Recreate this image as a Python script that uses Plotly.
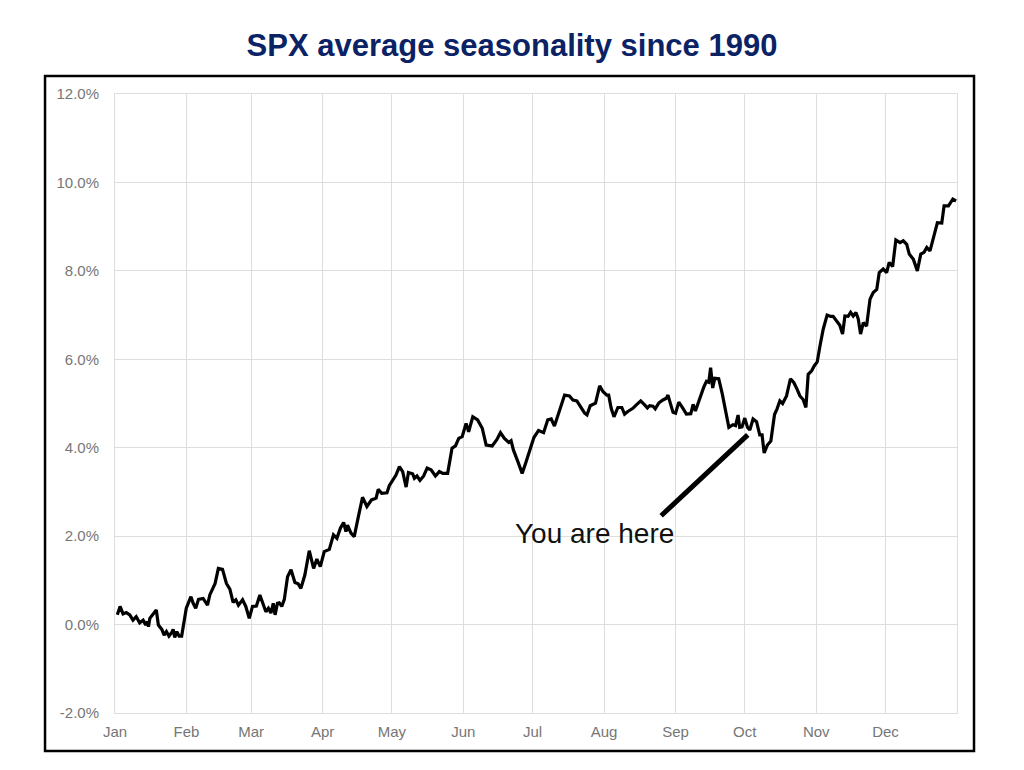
import pandas as pd
import plotly.graph_objects as go

# Day of year (0 = Jan 1) and average cumulative return (%)
day_of_year = [
    1.0, 2.2, 3.5, 4.9, 6.4, 7.8, 9.2, 10.7, 12.2, 13.3,
    14.0, 14.5, 15.1, 16.5, 17.9, 18.8, 20.3, 21.3, 22.3, 23.4,
    24.6, 25.2, 25.9, 26.8, 27.8, 28.9, 29.9, 30.9, 32.9, 33.9,
    35.0, 36.2, 38.2, 40.1, 41.1, 43.4, 44.8, 46.6, 48.3, 49.8,
    51.2, 52.4, 53.5, 55.3, 56.7, 58.2, 59.6, 61.3, 62.8, 64.2,
    65.4, 66.5, 67.6, 68.6, 69.4, 70.4, 71.2, 72.3, 73.4, 74.8,
    76.3, 78.0, 79.4, 80.6, 82.3, 84.2, 86.1, 87.5, 89.0, 90.7,
    92.9, 94.7, 96.2, 97.7, 99.1, 100.1, 100.8, 102.3, 103.7, 105.5,
    107.3, 109.2, 111.2, 113.2, 114.1, 115.6, 117.9, 118.9, 119.9, 121.8,
    123.3, 124.7, 126.2, 127.2, 129.0, 129.8, 130.9, 132.2, 133.8, 135.3,
    137.0, 138.9, 140.6, 142.1, 144.2, 146.1, 147.6, 149.0, 150.5, 152.2,
    153.3, 155.1, 157.2, 159.2, 160.9, 163.5, 165.5, 167.1, 168.8, 170.7,
    171.7, 172.7, 174.6, 176.5, 178.0, 179.4, 181.6, 183.6, 185.8, 187.6,
    189.1, 190.5, 192.7, 194.9, 197.0, 198.5, 200.2, 201.4, 203.6, 204.6,
    206.0, 208.3, 210.1, 211.5, 213.2, 214.0, 215.1, 216.3, 218.0, 219.7,
    220.9, 222.3, 224.5, 226.0, 227.9, 229.6, 230.8, 231.8, 233.2, 234.2,
    235.7, 237.5, 239.0, 239.7, 240.5, 241.9, 243.0, 244.4, 246.2, 247.7,
    249.6, 250.6, 251.6, 253.5, 255.3, 256.4, 257.4, 258.2, 259.1, 260.0,
    261.7, 263.2, 264.6, 266.1, 267.9, 269.0, 270.1, 270.8, 271.8, 273.0,
    274.2, 275.2, 276.6, 278.1, 279.5, 280.5, 281.4, 282.8, 284.3, 285.9,
    287.0, 288.2, 289.4, 291.1, 292.8, 294.3, 295.7, 296.9, 298.3, 299.5,
    300.5, 302.0, 303.1, 304.4, 305.6, 307.0, 308.7, 310.2, 311.3, 312.8,
    314.2, 315.4, 316.4, 317.8, 318.9, 320.0, 321.2, 322.2, 323.2, 324.4,
    325.8, 327.3, 328.7, 330.2, 331.3, 333.0, 334.5, 335.6, 337.1, 338.5,
    340.3, 341.7, 343.2, 344.3, 346.1, 347.8, 349.3, 350.7, 351.9, 353.3,
    355.0, 356.5, 358.4, 359.4, 361.3, 363.2, 364.6,
]

avg_return_pct = [
    0.22, 0.41, 0.24, 0.27, 0.22, 0.10, 0.18, 0.04, 0.10, -0.01,
    0.07, -0.05, 0.14, 0.24, 0.33, -0.01, -0.11, -0.24, -0.16, -0.26,
    -0.18, -0.11, -0.29, -0.16, -0.26, -0.26, 0.07, 0.37, 0.63, 0.48,
    0.37, 0.57, 0.59, 0.44, 0.67, 0.93, 1.27, 1.25, 0.93, 0.80,
    0.50, 0.56, 0.44, 0.56, 0.41, 0.14, 0.41, 0.42, 0.67, 0.48,
    0.29, 0.37, 0.26, 0.48, 0.22, 0.48, 0.49, 0.41, 0.57, 1.08,
    1.24, 0.95, 0.92, 0.82, 1.12, 1.67, 1.27, 1.48, 1.31, 1.65,
    1.70, 2.03, 1.95, 2.18, 2.31, 2.10, 2.25, 2.07, 1.99, 2.44,
    2.88, 2.67, 2.82, 2.86, 3.06, 2.97, 2.98, 3.14, 3.23, 3.38,
    3.57, 3.46, 3.11, 3.44, 3.41, 3.31, 3.36, 3.26, 3.36, 3.54,
    3.50, 3.36, 3.46, 3.42, 3.42, 3.99, 4.04, 4.21, 4.25, 4.55,
    4.36, 4.70, 4.63, 4.44, 4.06, 4.04, 4.18, 4.34, 4.21, 4.12,
    4.16, 3.95, 3.69, 3.42, 3.65, 3.89, 4.23, 4.39, 4.34, 4.63,
    4.65, 4.49, 4.86, 5.19, 5.17, 5.08, 5.06, 4.97, 4.78, 4.74,
    4.95, 5.01, 5.40, 5.27, 5.19, 5.19, 4.89, 4.70, 4.91, 4.91,
    4.76, 4.82, 4.89, 4.97, 5.06, 4.97, 4.90, 4.95, 4.94, 4.88,
    5.01, 5.08, 5.12, 5.19, 5.04, 4.80, 4.78, 5.03, 4.89, 4.76,
    4.77, 4.98, 4.83, 5.12, 5.38, 5.50, 5.48, 5.81, 5.35, 5.57,
    5.56, 5.23, 4.83, 4.46, 4.52, 4.50, 4.74, 4.46, 4.47, 4.67,
    4.46, 4.40, 4.65, 4.59, 4.29, 4.29, 3.88, 4.06, 4.15, 4.75,
    4.88, 5.06, 5.00, 5.17, 5.56, 5.47, 5.32, 5.17, 5.09, 4.91,
    5.66, 5.74, 5.85, 5.94, 6.30, 6.68, 7.00, 6.97, 6.97, 6.85,
    6.77, 6.57, 6.98, 6.97, 7.06, 6.98, 7.06, 6.91, 6.57, 6.83,
    6.75, 7.36, 7.51, 7.58, 7.96, 8.04, 7.96, 8.19, 8.10, 8.70,
    8.64, 8.68, 8.60, 8.38, 8.26, 8.00, 8.38, 8.42, 8.53, 8.45,
    8.79, 9.09, 9.08, 9.47, 9.47, 9.62, 9.58,
]

month_labels = ["Jan", "Feb", "Mar", "Apr", "May", "Jun",
                "Jul", "Aug", "Sep", "Oct", "Nov", "Dec"]
y_ticks = [-2, 0, 2, 4, 6, 8, 10, 12]
y_tick_labels = [f"{v:.1f}%" for v in y_ticks]

title_text = "SPX average seasonality since 1990"
note_text = "You are here"
note_day, note_value = 207.9, 2.05
arrow_head_day, arrow_head_value = 274.3, 4.29
arrow_tail_day, arrow_tail_value = 236.1, 2.43

base = pd.Timestamp("2023-01-01")
dates = base + pd.to_timedelta(day_of_year, unit="D")
month_starts = pd.date_range("2023-01-01", periods=12, freq="MS")

def to_date(d):
    return base + pd.Timedelta(days=d)

fig = go.Figure()
fig.add_trace(go.Scatter(
    x=dates, y=avg_return_pct, mode="lines",
    line=dict(color="black", width=3.2), showlegend=False,
))

fig.add_annotation(
    x=to_date(arrow_head_day), y=arrow_head_value,
    ax=to_date(arrow_tail_day), ay=arrow_tail_value,
    axref="x", ayref="y", xref="x", yref="y",
    text="", showarrow=True, arrowhead=0, arrowwidth=5, arrowcolor="black",
)
fig.add_annotation(
    x=to_date(note_day), y=note_value, xref="x", yref="y",
    text=note_text, showarrow=False,
    font=dict(family="Liberation Sans, Arial, sans-serif", size=28, color="#111111"),
)

# outer black frame
fig.add_shape(type="rect", xref="paper", yref="paper",
              x0=-0.0831, x1=1.0202, y0=-0.0614, y1=1.029,
              line=dict(color="black", width=2.5), fillcolor="rgba(0,0,0,0)",
              layer="above")

grid = "#dedede"
fig.update_layout(
    width=1024, height=770,
    margin=dict(l=115, r=67, t=94, b=57),
    paper_bgcolor="white", plot_bgcolor="white",
    title=dict(text="<b>" + title_text + "</b>", x=0.5, xanchor="center",
               y=1 - 45 / 770, yanchor="middle",
               font=dict(family="Liberation Sans, Arial, sans-serif", size=31, color="#0B2265")),
    font=dict(family="Liberation Sans, Arial, sans-serif", color="#767676", size=15),
)
fig.update_xaxes(
    type="date", range=[base, base + pd.Timedelta(days=365)],
    tickvals=month_starts, ticktext=month_labels,
    showgrid=True, gridcolor=grid, gridwidth=1,
    showline=True, linecolor=grid, linewidth=1, mirror=True,
    ticks="outside", ticklen=5, tickcolor="rgba(0,0,0,0)",
    tickfont=dict(size=15, color="#767676"), zeroline=False,
)
fig.update_yaxes(
    range=[-2, 12], tickvals=y_ticks, ticktext=y_tick_labels,
    showgrid=True, gridcolor=grid, gridwidth=1,
    showline=True, linecolor=grid, linewidth=1, mirror=True,
    ticks="outside", ticklen=12, tickcolor="rgba(0,0,0,0)",
    tickfont=dict(size=15, color="#767676"), zeroline=False,
)

fig.write_html("out.html", config={"displayModeBar": False},
               post_script="document.body.style.margin='0px';")
